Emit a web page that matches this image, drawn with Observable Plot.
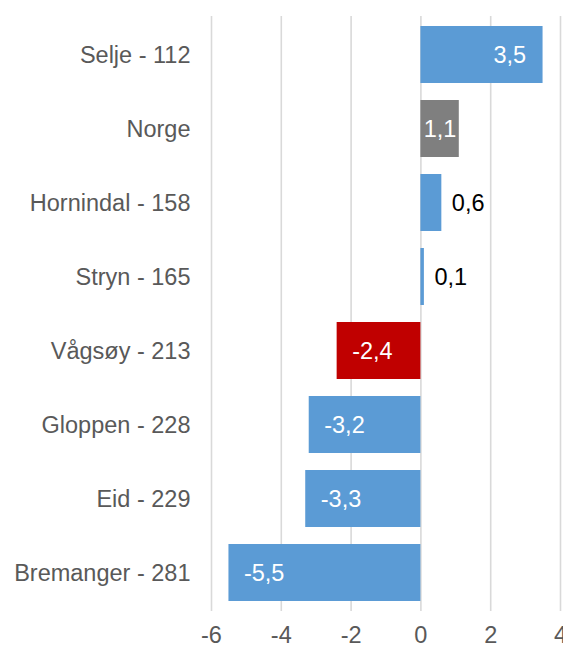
<!DOCTYPE html>
<html>
<head>
<meta charset="utf-8">
<script src="https://cdn.jsdelivr.net/npm/d3@7"></script>
<script src="https://cdn.jsdelivr.net/npm/@observablehq/plot@0.6"></script>
<style>
  html, body { margin: 0; padding: 0; background: #fff; }
  #chart svg { overflow: visible; }
</style>
</head>
<body>
<div id="chart"></div>
<script>
const categories = ["Selje - 112", "Norge", "Hornindal - 158", "Stryn - 165", "Vågsøy - 213", "Gloppen - 228", "Eid - 229", "Bremanger - 281"];
const values = [3.5, 1.1, 0.6, 0.1, -2.4, -3.2, -3.3, -5.5];
const groups = ["kommune", "land", "kommune", "kommune", "utvalgt", "kommune", "kommune", "kommune"];
const xTicks = [-6, -4, -2, 0, 2, 4];

const data = categories.map((name, i) => ({ name, value: values[i], group: groups[i] }));
const fmt = v => String(v).replace(".", ",");

const endIn = data.filter(d => d.value >= 2);
const midIn = data.filter(d => Math.abs(d.value) >= 1 && Math.abs(d.value) < 2);
const negIn = data.filter(d => d.value <= -1);
const outside = data.filter(d => Math.abs(d.value) < 1);

const chart = Plot.plot({
  width: 563,
  height: 648,
  marginLeft: 211,
  marginRight: 3,
  marginTop: 16,
  marginBottom: 37,
  style: { fontFamily: "'Liberation Sans', Arial, sans-serif", fontSize: "23.5px", color: "#595959", background: "#fff" },
  x: { domain: [-6, 4], ticks: xTicks, tickFormat: d => String(d), label: null },
  y: { domain: categories, paddingInner: 0.233, paddingOuter: 0.12, label: null },
  color: { domain: ["kommune", "land", "utvalgt"], range: ["#5B9BD5", "#7F7F7F", "#C00000"] },
  marks: [
    Plot.gridX(xTicks, { stroke: "#D9D9D9", strokeOpacity: 1, strokeWidth: 1.6 }),
    Plot.barX(data, { x: "value", y: "name", fill: "group" }),
    Plot.axisX({ ticks: xTicks, tickSize: 0, tickPadding: 15, tickFormat: d => String(d), label: null }),
    Plot.axisY({ tickSize: 0, tickPadding: 21, label: null }),
    Plot.text(endIn, { x: "value", y: "name", text: d => fmt(d.value), textAnchor: "end", dx: -17, fill: "#fff" }),
    Plot.text(midIn, { x: d => d.value / 2, y: "name", text: d => fmt(d.value), textAnchor: "middle", fill: "#fff" }),
    Plot.text(negIn, { x: "value", y: "name", text: d => fmt(d.value), textAnchor: "start", dx: 15, fill: "#fff" }),
    Plot.text(outside, { x: "value", y: "name", text: d => fmt(d.value), textAnchor: "start", dx: 10, fill: "#000" })
  ]
});
document.getElementById("chart").appendChild(chart);
</script>
</body>
</html>
